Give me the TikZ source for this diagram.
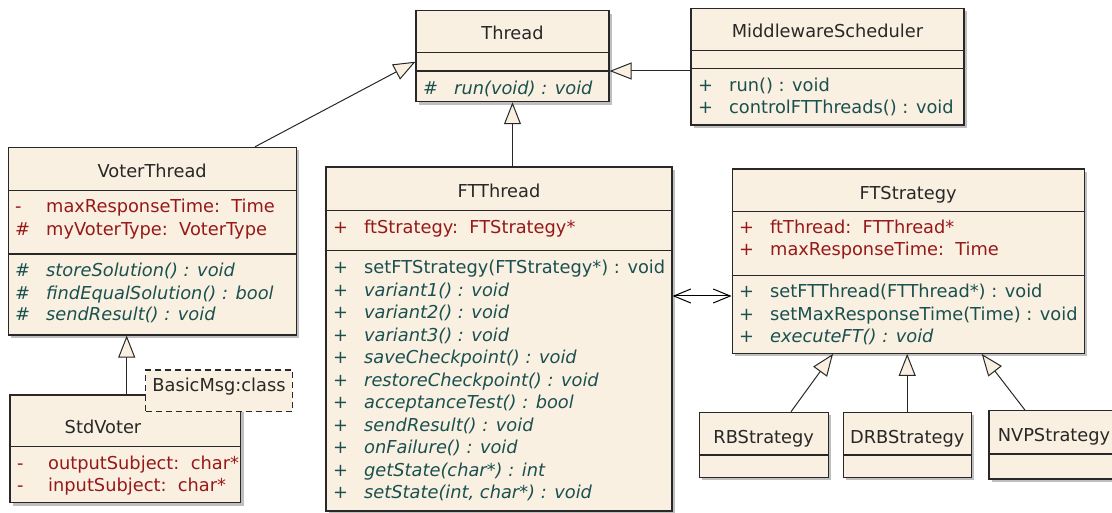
\documentclass[tikz,border=0pt]{standalone}
\usepackage{fontspec}
\setmainfont{DejaVu Sans}
\usetikzlibrary{arrows.meta,shadows}
\definecolor{fond}{RGB}{250,240,225}
\definecolor{rougeattr}{RGB}{150,25,25}
\definecolor{vertmeth}{RGB}{25,80,80}
\definecolor{gristrait}{RGB}{40,40,40}
\newcommand{\vis}[1]{\makebox[31pt][l]{#1}}

\begin{document}
\begin{tikzpicture}[x=1pt, y=-1pt]
\tikzset{classe/.style={draw=gristrait, fill=fond, line width=1.1pt, inner sep=0pt, drop shadow={shadow xshift=3pt, shadow yshift=-3pt, fill=black!25, opacity=1}},
texte/.style={inner sep=0pt, font=\fontsize{17.8}{21}\selectfont, text height=13pt, text depth=1pt},
titre/.style={texte, text=gristrait},
attribut/.style={texte, anchor=west, text=rougeattr},
methode/.style={texte, anchor=west, text=vertmeth},
abstraite/.style={methode, font=\fontsize{17.8}{21}\selectfont\itshape},
trait/.style={draw=gristrait, line width=1.1pt},
herite/.style={draw=gristrait, line width=1pt, -{Triangle[length=22pt, width=17pt, fill=fond]}},
assoc/.style={draw=black, line width=1pt, {Straight Barb[length=17pt, width=14pt]}-{Straight Barb[length=17pt, width=14pt]}}}
\clip (0,0) rectangle (1112,513);
\node[classe, minimum width=193pt, minimum height=91pt] (thread) at (512.5,56.2) {};
\draw[trait] (thread.west |- 0,52.7) -- (thread.east |- 0,52.7);
\draw[trait] (thread.west |- 0,71) -- (thread.east |- 0,71);
\node[titre] (threadT) at (512.5,33.3) {Thread};
\node[abstraite] (threadM1) at (423,88.3) {\vis{\#}run(void) : void};
\node[classe, minimum width=273pt, minimum height=116.7pt] (ms) at (827.5,66.7) {};
\draw[trait] (ms.west |- 0,50.7) -- (ms.east |- 0,50.7);
\draw[trait] (ms.west |- 0,68.3) -- (ms.east |- 0,68.3);
\node[titre] (msT) at (827.5,31.7) {MiddlewareScheduler};
\node[methode] (msM1) at (698,86) {\vis{+}run() : void};
\node[methode] (msM2) at (698,107.3) {\vis{+}controlFTThreads() : void};
\node[classe, minimum width=287.7pt, minimum height=187.7pt] (voter) at (152.2,241.2) {};
\draw[trait] (voter.west |- 0,190.7) -- (voter.east |- 0,190.7);
\draw[trait] (voter.west |- 0,254) -- (voter.east |- 0,254);
\node[titre] (voterT) at (152.2,171.7) {VoterThread};
\node[attribut] (voterA1) at (15,206.7) {\vis{-}maxResponseTime:\ \ Time};
\node[attribut] (voterA2) at (15,229.3) {\vis{\#}myVoterType:\ \ VoterType};
\node[abstraite] (voterM1) at (15,270.7) {\vis{\#}storeSolution() : void};
\node[abstraite] (voterM2) at (15,293.3) {\vis{\#}findEqualSolution() : bool};
\node[abstraite] (voterM3) at (15,315) {\vis{\#}sendResult() : void};
\node[classe, minimum width=230.7pt, minimum height=107.7pt] (std) at (125.3,448.8) {};
\draw[trait] (std.west |- 0,446.7) -- (std.east |- 0,446.7);
\node[titre] (stdT) at (103,427.3) {StdVoter};
\node[attribut] (stdA1) at (17,463.3) {\vis{-}outputSubject:\ \ char*};
\node[attribut] (stdA2) at (17,485) {\vis{-}inputSubject:\ \ char*};
\node[draw=gristrait, fill=fond, line width=1.1pt, dash pattern=on 6pt off 4pt, inner sep=0pt, minimum width=146.6pt, minimum height=41.7pt] (basic) at (219,390.8) {};
\node[titre] (basicT) at (219,385) {BasicMsg:class};
\node[classe, minimum width=346pt, minimum height=344pt] (ftt) at (499,339) {};
\draw[trait] (ftt.west |- 0,210.7) -- (ftt.east |- 0,210.7);
\draw[trait] (ftt.west |- 0,250.7) -- (ftt.east |- 0,250.7);
\node[titre] (fttT) at (499,191.7) {FTThread};
\node[attribut] (fttA1) at (333,228) {\vis{+}ftStrategy:\ \ FTStrategy*};
\node[methode] (fttM1) at (333,267.7) {\vis{+}setFTStrategy(FTStrategy*) : void};
\node[abstraite] (fttM2) at (333,290.2) {\vis{+}variant1() : void};
\node[abstraite] (fttM3) at (333,312.7) {\vis{+}variant2() : void};
\node[abstraite] (fttM4) at (333,335.2) {\vis{+}variant3() : void};
\node[abstraite] (fttM5) at (333,357.7) {\vis{+}saveCheckpoint() : void};
\node[abstraite] (fttM6) at (333,380.2) {\vis{+}restoreCheckpoint() : void};
\node[abstraite] (fttM7) at (333,402.7) {\vis{+}acceptanceTest() : bool};
\node[abstraite] (fttM8) at (333,425.2) {\vis{+}sendResult() : void};
\node[abstraite] (fttM9) at (333,447.7) {\vis{+}onFailure() : void};
\node[abstraite] (fttM10) at (333,470.2) {\vis{+}getState(char*) : int};
\node[abstraite] (fttM11) at (333,492.7) {\vis{+}setState(int, char*) : void};
\node[classe, minimum width=352.3pt, minimum height=184.3pt] (fts) at (908.2,261.2) {};
\draw[trait] (fts.west |- 0,211.7) -- (fts.east |- 0,211.7);
\draw[trait] (fts.west |- 0,275.7) -- (fts.east |- 0,275.7);
\node[titre] (ftsT) at (908.2,193.3) {FTStrategy};
\node[attribut] (ftsA1) at (739,228) {\vis{+}ftThread:\ \ FTThread*};
\node[attribut] (ftsA2) at (739,250) {\vis{+}maxResponseTime:\ \ Time};
\node[methode] (ftsM1) at (739,291.7) {\vis{+}setFTThread(FTThread*) : void};
\node[methode] (ftsM2) at (739,314) {\vis{+}setMaxResponseTime(Time) : void};
\node[abstraite] (ftsM3) at (739,336.7) {\vis{+}executeFT() : void};
\node[classe, minimum width=129.3pt, minimum height=65pt] (rb) at (763.7,444.8) {};
\draw[trait] (rb.west |- 0,455) -- (rb.east |- 0,455);
\node[titre] (rbT) at (763.7,437.3) {RBStrategy};
\node[classe, minimum width=127.7pt, minimum height=65pt] (drb) at (907.2,444.8) {};
\draw[trait] (drb.west |- 0,455) -- (drb.east |- 0,455);
\node[titre] (drbT) at (907.2,437.3) {DRBStrategy};
\node[classe, minimum width=130pt, minimum height=68.3pt] (nvp) at (1054,444.85) {};
\draw[trait] (nvp.west |- 0,454) -- (nvp.east |- 0,454);
\node[titre] (nvpT) at (1054,435) {NVPStrategy};
\draw[herite] ([yshift=-4.3pt]ms.west) -- ([yshift=-4.3pt]ms.west -| thread.east);
\draw[herite] ([xshift=102.8pt]voter.north) -- ([yshift=-5.5pt]thread.west);
\draw[herite] (ftt.north -| thread.south) -- (thread.south);
\draw[herite] (std.north -| 126.7,0) -- (voter.south -| 126.7,0);
\draw[assoc] ([yshift=43pt]ftt.east) -- ([yshift=43pt]ftt.east -| fts.west);
\draw[herite] ([xshift=27.3pt]rb.north) -- ([xshift=-75.2pt]fts.south);
\draw[herite] (drb.north) -- (drb.north |- fts.south);
\draw[herite] ([xshift=-29pt]nvp.north) -- ([xshift=73.5pt]fts.south);
\end{tikzpicture}
\end{document}
